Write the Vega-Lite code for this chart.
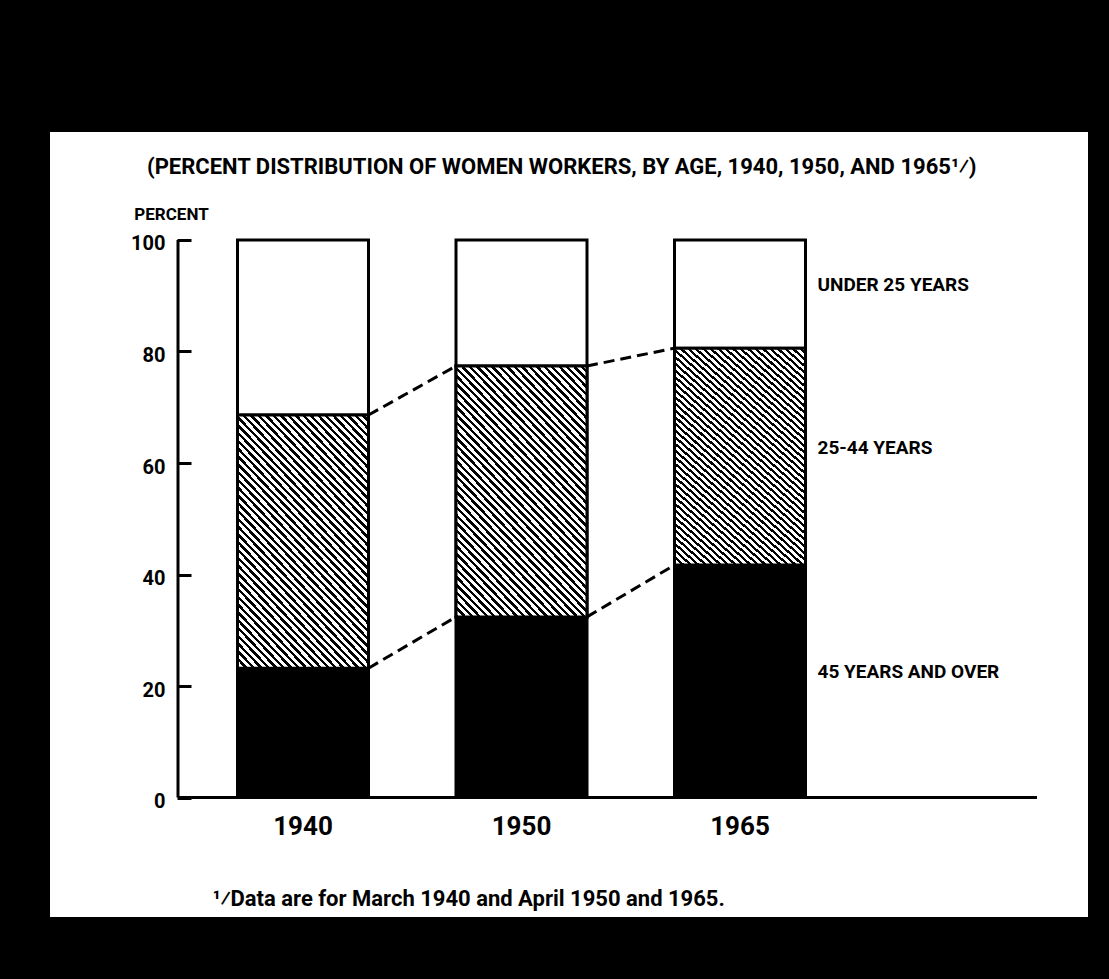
{
  "$schema": "https://vega.github.io/schema/vega-lite/v6.json",
  "width": 1038,
  "height": 785,
  "autosize": {"type": "none"},
  "padding": {"left": 50, "top": 132, "right": 21, "bottom": 62},
  "background": "black",
  "title": {
    "text": "(PERCENT DISTRIBUTION OF WOMEN WORKERS, BY AGE, 1940, 1950, AND 1965¹⁄)",
    "anchor": "start",
    "frame": "group",
    "orient": "top",
    "offset": -64,
    "baseline": "alphabetic",
    "dx": 97,
    "fontSize": 22,
    "fontWeight": "bold",
    "color": "black"
  },
  "data": {
    "values": [
      {"year": "1940", "age": "45 YEARS AND OVER", "ord": 1, "pct": 23.2},
      {"year": "1940", "age": "25-44 YEARS", "ord": 2, "pct": 45.4},
      {"year": "1940", "age": "UNDER 25 YEARS", "ord": 3, "pct": 31.4},
      {"year": "1950", "age": "45 YEARS AND OVER", "ord": 1, "pct": 32.4},
      {"year": "1950", "age": "25-44 YEARS", "ord": 2, "pct": 45.0},
      {"year": "1950", "age": "UNDER 25 YEARS", "ord": 3, "pct": 22.6},
      {"year": "1965", "age": "45 YEARS AND OVER", "ord": 1, "pct": 41.7},
      {"year": "1965", "age": "25-44 YEARS", "ord": 2, "pct": 38.9},
      {"year": "1965", "age": "UNDER 25 YEARS", "ord": 3, "pct": 19.4}
    ]
  },
  "layer": [
    {
      "transform": [{"stack": "pct", "groupby": ["year"], "sort": [{"field": "ord"}], "as": ["lo", "hi"]}],
      "mark": {"type": "bar", "stroke": "black", "strokeWidth": 3},
      "encoding": {
        "x": {
          "field": "year", "type": "nominal",
          "scale": {"domain": ["1940", "1950", "1965"], "range": [187.5, 755.5], "paddingInner": 0.40046, "paddingOuter": 0},
          "axis": {
            "orient": "bottom", "offset": -119.5, "domain": false, "ticks": false, "grid": false,
            "labelPadding": 16, "labelFontSize": 26, "labelFontWeight": "bold", "labelColor": "black", "labelAngle": 0,
            "title": "¹⁄Data are for March 1940 and April 1950 and 1965.",
            "titleX": 162, "titleY": 101, "titleAlign": "left", "titleAnchor": "start", "titleBaseline": "middle",
            "titleFontSize": 22, "titleFontWeight": "bold", "titleColor": "black"
          }
        },
        "y": {
          "field": "lo", "type": "quantitative",
          "scale": {"domain": [-21.43, 119.37], "nice": false, "zero": false},
          "axis": {
            "orient": "left", "offset": -141, "values": [0, 20, 40, 60, 80, 100], "domain": false, "grid": false,
            "tickSize": 14, "tickWidth": 3, "tickColor": "black",
            "labelPadding": 12, "labelFontSize": 20, "labelFontWeight": "bold", "labelColor": "black", "labelOffset": 4,
            "title": "PERCENT", "titleAngle": 0, "titleX": -20, "titleY": 82, "titleAlign": "center", "titleBaseline": "middle",
            "titleFontSize": 17, "titleFontWeight": "bold", "titleColor": "black"
          }
        },
        "y2": {"field": "hi"},
        "fill": {"condition": {"test": "datum.age === '45 YEARS AND OVER'", "value": "black"}, "value": "white"}
      }
    },
    {
      "transform": [
        {"stack": "pct", "groupby": ["year"], "sort": [{"field": "ord"}], "as": ["lo", "hi"]},
        {"filter": "datum.age === '25-44 YEARS'"}
      ],
      "mark": {
        "type": "bar", "stroke": "black", "strokeWidth": 3,
        "fill": {
          "gradient": "linear", "x1": 0, "y1": 1, "x2": 0.6444, "y2": -0.1922,
          "stops": [
            {"offset":0,"color":"#000"},{"offset":0.009,"color":"#000"},{"offset":0.009,"color":"#fff"},{"offset":0.02,"color":"#fff"},
            {"offset":0.02,"color":"#000"},{"offset":0.029,"color":"#000"},{"offset":0.029,"color":"#fff"},{"offset":0.04,"color":"#fff"},
            {"offset":0.04,"color":"#000"},{"offset":0.049,"color":"#000"},{"offset":0.049,"color":"#fff"},{"offset":0.06,"color":"#fff"},
            {"offset":0.06,"color":"#000"},{"offset":0.069,"color":"#000"},{"offset":0.069,"color":"#fff"},{"offset":0.08,"color":"#fff"},
            {"offset":0.08,"color":"#000"},{"offset":0.089,"color":"#000"},{"offset":0.089,"color":"#fff"},{"offset":0.1,"color":"#fff"},
            {"offset":0.1,"color":"#000"},{"offset":0.109,"color":"#000"},{"offset":0.109,"color":"#fff"},{"offset":0.12,"color":"#fff"},
            {"offset":0.12,"color":"#000"},{"offset":0.129,"color":"#000"},{"offset":0.129,"color":"#fff"},{"offset":0.14,"color":"#fff"},
            {"offset":0.14,"color":"#000"},{"offset":0.149,"color":"#000"},{"offset":0.149,"color":"#fff"},{"offset":0.16,"color":"#fff"},
            {"offset":0.16,"color":"#000"},{"offset":0.169,"color":"#000"},{"offset":0.169,"color":"#fff"},{"offset":0.18,"color":"#fff"},
            {"offset":0.18,"color":"#000"},{"offset":0.189,"color":"#000"},{"offset":0.189,"color":"#fff"},{"offset":0.2,"color":"#fff"},
            {"offset":0.2,"color":"#000"},{"offset":0.209,"color":"#000"},{"offset":0.209,"color":"#fff"},{"offset":0.22,"color":"#fff"},
            {"offset":0.22,"color":"#000"},{"offset":0.229,"color":"#000"},{"offset":0.229,"color":"#fff"},{"offset":0.24,"color":"#fff"},
            {"offset":0.24,"color":"#000"},{"offset":0.249,"color":"#000"},{"offset":0.249,"color":"#fff"},{"offset":0.26,"color":"#fff"},
            {"offset":0.26,"color":"#000"},{"offset":0.269,"color":"#000"},{"offset":0.269,"color":"#fff"},{"offset":0.28,"color":"#fff"},
            {"offset":0.28,"color":"#000"},{"offset":0.289,"color":"#000"},{"offset":0.289,"color":"#fff"},{"offset":0.3,"color":"#fff"},
            {"offset":0.3,"color":"#000"},{"offset":0.309,"color":"#000"},{"offset":0.309,"color":"#fff"},{"offset":0.32,"color":"#fff"},
            {"offset":0.32,"color":"#000"},{"offset":0.329,"color":"#000"},{"offset":0.329,"color":"#fff"},{"offset":0.34,"color":"#fff"},
            {"offset":0.34,"color":"#000"},{"offset":0.349,"color":"#000"},{"offset":0.349,"color":"#fff"},{"offset":0.36,"color":"#fff"},
            {"offset":0.36,"color":"#000"},{"offset":0.369,"color":"#000"},{"offset":0.369,"color":"#fff"},{"offset":0.38,"color":"#fff"},
            {"offset":0.38,"color":"#000"},{"offset":0.389,"color":"#000"},{"offset":0.389,"color":"#fff"},{"offset":0.4,"color":"#fff"},
            {"offset":0.4,"color":"#000"},{"offset":0.409,"color":"#000"},{"offset":0.409,"color":"#fff"},{"offset":0.42,"color":"#fff"},
            {"offset":0.42,"color":"#000"},{"offset":0.429,"color":"#000"},{"offset":0.429,"color":"#fff"},{"offset":0.44,"color":"#fff"},
            {"offset":0.44,"color":"#000"},{"offset":0.449,"color":"#000"},{"offset":0.449,"color":"#fff"},{"offset":0.46,"color":"#fff"},
            {"offset":0.46,"color":"#000"},{"offset":0.469,"color":"#000"},{"offset":0.469,"color":"#fff"},{"offset":0.48,"color":"#fff"},
            {"offset":0.48,"color":"#000"},{"offset":0.489,"color":"#000"},{"offset":0.489,"color":"#fff"},{"offset":0.5,"color":"#fff"},
            {"offset":0.5,"color":"#000"},{"offset":0.509,"color":"#000"},{"offset":0.509,"color":"#fff"},{"offset":0.52,"color":"#fff"},
            {"offset":0.52,"color":"#000"},{"offset":0.529,"color":"#000"},{"offset":0.529,"color":"#fff"},{"offset":0.54,"color":"#fff"},
            {"offset":0.54,"color":"#000"},{"offset":0.549,"color":"#000"},{"offset":0.549,"color":"#fff"},{"offset":0.56,"color":"#fff"},
            {"offset":0.56,"color":"#000"},{"offset":0.569,"color":"#000"},{"offset":0.569,"color":"#fff"},{"offset":0.58,"color":"#fff"},
            {"offset":0.58,"color":"#000"},{"offset":0.589,"color":"#000"},{"offset":0.589,"color":"#fff"},{"offset":0.6,"color":"#fff"},
            {"offset":0.6,"color":"#000"},{"offset":0.609,"color":"#000"},{"offset":0.609,"color":"#fff"},{"offset":0.62,"color":"#fff"},
            {"offset":0.62,"color":"#000"},{"offset":0.629,"color":"#000"},{"offset":0.629,"color":"#fff"},{"offset":0.64,"color":"#fff"},
            {"offset":0.64,"color":"#000"},{"offset":0.649,"color":"#000"},{"offset":0.649,"color":"#fff"},{"offset":0.66,"color":"#fff"},
            {"offset":0.66,"color":"#000"},{"offset":0.669,"color":"#000"},{"offset":0.669,"color":"#fff"},{"offset":0.68,"color":"#fff"},
            {"offset":0.68,"color":"#000"},{"offset":0.689,"color":"#000"},{"offset":0.689,"color":"#fff"},{"offset":0.7,"color":"#fff"},
            {"offset":0.7,"color":"#000"},{"offset":0.709,"color":"#000"},{"offset":0.709,"color":"#fff"},{"offset":0.72,"color":"#fff"},
            {"offset":0.72,"color":"#000"},{"offset":0.729,"color":"#000"},{"offset":0.729,"color":"#fff"},{"offset":0.74,"color":"#fff"},
            {"offset":0.74,"color":"#000"},{"offset":0.749,"color":"#000"},{"offset":0.749,"color":"#fff"},{"offset":0.76,"color":"#fff"},
            {"offset":0.76,"color":"#000"},{"offset":0.769,"color":"#000"},{"offset":0.769,"color":"#fff"},{"offset":0.78,"color":"#fff"},
            {"offset":0.78,"color":"#000"},{"offset":0.789,"color":"#000"},{"offset":0.789,"color":"#fff"},{"offset":0.8,"color":"#fff"},
            {"offset":0.8,"color":"#000"},{"offset":0.809,"color":"#000"},{"offset":0.809,"color":"#fff"},{"offset":0.82,"color":"#fff"},
            {"offset":0.82,"color":"#000"},{"offset":0.829,"color":"#000"},{"offset":0.829,"color":"#fff"},{"offset":0.84,"color":"#fff"},
            {"offset":0.84,"color":"#000"},{"offset":0.849,"color":"#000"},{"offset":0.849,"color":"#fff"},{"offset":0.86,"color":"#fff"},
            {"offset":0.86,"color":"#000"},{"offset":0.869,"color":"#000"},{"offset":0.869,"color":"#fff"},{"offset":0.88,"color":"#fff"},
            {"offset":0.88,"color":"#000"},{"offset":0.889,"color":"#000"},{"offset":0.889,"color":"#fff"},{"offset":0.9,"color":"#fff"},
            {"offset":0.9,"color":"#000"},{"offset":0.909,"color":"#000"},{"offset":0.909,"color":"#fff"},{"offset":0.92,"color":"#fff"},
            {"offset":0.92,"color":"#000"},{"offset":0.929,"color":"#000"},{"offset":0.929,"color":"#fff"},{"offset":0.94,"color":"#fff"},
            {"offset":0.94,"color":"#000"},{"offset":0.949,"color":"#000"},{"offset":0.949,"color":"#fff"},{"offset":0.96,"color":"#fff"},
            {"offset":0.96,"color":"#000"},{"offset":0.969,"color":"#000"},{"offset":0.969,"color":"#fff"},{"offset":0.98,"color":"#fff"},
            {"offset":0.98,"color":"#000"},{"offset":0.989,"color":"#000"},{"offset":0.989,"color":"#fff"},{"offset":1,"color":"#fff"}
          ]
        }
      },
      "encoding": {
        "x": {"field": "year", "type": "nominal"},
        "y": {"field": "lo", "type": "quantitative"},
        "y2": {"field": "hi"}
      }
    },
    {
      "transform": [
        {"stack": "pct", "groupby": ["year"], "sort": [{"field": "ord"}], "as": ["lo", "hi"]},
        {"filter": "datum.age !== 'UNDER 25 YEARS'"},
        {"window": [{"op": "lead", "field": "hi", "as": "nhi"}, {"op": "lead", "field": "year", "as": "nyear"}], "groupby": ["age"], "sort": [{"field": "year"}]},
        {"filter": "datum.nyear != null"}
      ],
      "mark": {"type": "rule", "color": "black", "strokeWidth": 3, "strokeDash": [11, 6]},
      "encoding": {
        "x": {"field": "year", "type": "nominal", "bandPosition": 1},
        "x2": {"field": "nyear", "bandPosition": 0},
        "y": {"field": "hi", "type": "quantitative"},
        "y2": {"field": "nhi"}
      }
    },
    {
      "transform": [
        {"stack": "pct", "groupby": ["year"], "sort": [{"field": "ord"}], "as": ["lo", "hi"]},
        {"filter": "datum.year === '1965'"},
        {"calculate": "(datum.lo + datum.hi) / 2", "as": "mid"}
      ],
      "mark": {"type": "text", "align": "left", "baseline": "middle", "dx": 12, "dy": -9, "fontSize": 19, "fontWeight": "bold", "color": "black"},
      "encoding": {
        "x": {"field": "year", "type": "nominal", "bandPosition": 1},
        "y": {"field": "mid", "type": "quantitative"},
        "text": {"field": "age"}
      }
    },
    {
      "data": {"values": [{"axis": "y"}]},
      "mark": {"type": "rule", "color": "black", "strokeWidth": 3},
      "encoding": {
        "x": {"datum": "1940", "type": "nominal", "bandPosition": -0.4542},
        "y": {"datum": 0, "type": "quantitative"},
        "y2": {"datum": 100}
      }
    },
    {
      "data": {"values": [{"axis": "x"}]},
      "mark": {"type": "rule", "color": "black", "strokeWidth": 3},
      "encoding": {
        "x": {"datum": "1940", "type": "nominal", "bandPosition": -0.4542},
        "x2": {"datum": "1965", "bandPosition": 2.767},
        "y": {"datum": 0, "type": "quantitative"}
      }
    }
  ],
  "config": {
    "view": {"fill": "white", "stroke": null},
    "font": "Roboto, DejaVu Sans Condensed, sans-serif"
  }
}
